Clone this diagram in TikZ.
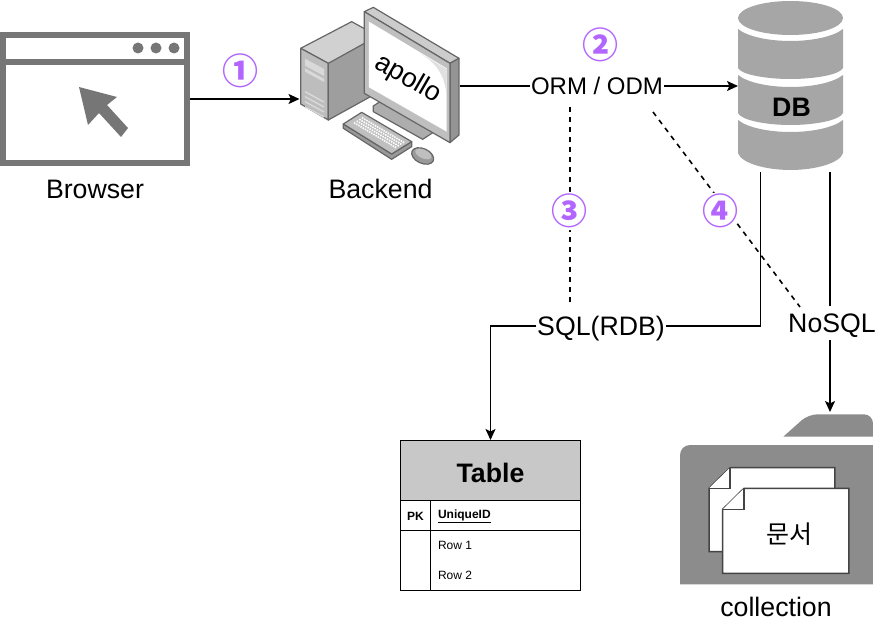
\documentclass[tikz,border=0pt]{standalone}
\usepackage{fontspec}
\setmainfont{Liberation Sans}
\newfontfamily\krfont{Noto Sans CJK KR}
\usetikzlibrary{positioning,arrows.meta}
\definecolor{iconframe}{HTML}{767676}
\definecolor{dbgray}{HTML}{A6A6A6}
\definecolor{foldergray}{HTML}{8C8C8C}
\definecolor{docline}{HTML}{444444}
\definecolor{numpurple}{HTML}{B266FF}
\definecolor{titlegray}{HTML}{C8C8C8}
\tikzset{
  >={Stealth[length=11pt,width=10pt,inset=2.5pt]},
  link/.style={line width=1.6pt},
  dashlink/.style={line width=1.6pt,dash pattern=on 5pt off 5pt},
  iconbox/.style={rectangle,inner sep=0pt,outer sep=0pt},
  biglabel/.style={inner sep=0pt,font=\fontsize{26.7}{30}\selectfont},
  number/.style={circle,fill=white,inner sep=-4pt,text=numpurple,font=\krfont\bfseries\fontsize{36}{40}\selectfont},
  tablecell/.style={rectangle,draw,line width=1pt,outer sep=0pt,inner sep=0pt,minimum height=30pt,font=\fontsize{12}{14}\selectfont},
  rowtext/.style={inner sep=0pt,outer sep=0pt,minimum height=30pt,font=\fontsize{12}{14}\selectfont},
  doc/.style={draw=docline,line width=1.5pt,fill=white,line join=miter}
}

\begin{document}
\begin{tikzpicture}[x=1pt,y=-1pt]
  \useasboundingbox (0,0) rectangle (877,623);

  % browser
  \node[iconbox,draw=iconframe,line width=6pt,outer sep=3pt,minimum width=184pt,minimum height=128pt] (browser) at (95,99) {};
  \draw[iconframe,line width=6pt] (3,62) -- (187,62);
  \foreach \dotx in {138,156,174}
    \fill[iconframe] (\dotx,48) circle (5.5pt);
  \fill[iconframe] (79,87) -- (117,97) -- (107,105) -- (128,128) -- (121,137) -- (99,113) -- (88,125) -- cycle;
  \node[biglabel,below=14pt of browser] (browserlabel) {Browser};

  % backend computer
  \node[iconbox,minimum width=160pt,minimum height=136pt] (backend) at (379.5,75) {};
  \begin{scope}[shift={(280,0)},x=0.3333pt,y=-0.3333pt,draw=black!60,line width=1.2pt,line join=round]
    \filldraw[fill=black!18] (62,145) -- (215,65) -- (275,98) -- (275,200) -- (145,190) -- cycle;
    \filldraw[fill=black!26] (62,145) -- (145,190) -- (145,360) -- (62,312) -- cycle;
    \filldraw[fill=black!38] (145,190) -- (275,118) -- (275,288) -- (145,360) -- cycle;
    \fill[white!85!black] (75,176) -- (132,207) -- (132,228) -- (75,197) -- cycle;
    \fill[white!85!black] (75,205) -- (132,236) -- (132,246) -- (75,215) -- cycle;
    \foreach \sloty in {275,290,305,320}
      \draw[white!85!black,line width=1.4pt] (75,\sloty) -- (132,\sloty+31);
    \filldraw[fill=black!32] (280,318) -- (300,305) -- (460,397) -- (428,418) -- (280,335) -- cycle;
    \filldraw[fill=black!20] (253,35) -- (280,22) -- (537,175) -- (510,190) -- cycle;
    \filldraw[fill=black!42] (510,190) -- (537,175) -- (537,405) -- (510,428) -- cycle;
    \filldraw[fill=black!25] (253,35) -- (510,190) -- (510,428) -- (253,280) -- cycle;
    \fill[white] (267,65) -- (500,205) -- (500,395) -- (267,262) -- cycle;
    \fill[black!12] (420,160) -- (500,207) -- (500,290) .. controls (495,225) and (470,190) .. (420,160);
    \filldraw[fill=black!40] (190,372) -- (190,385) -- (335,478) -- (395,440) -- (395,425) -- (335,462) -- cycle;
    \filldraw[fill=black!25] (190,372) -- (245,337) -- (395,425) -- (335,462) -- cycle;
    \foreach \keyrow in {0,1,2,3}
      \draw[white,line width=1.6pt,dash pattern=on 1.5pt off 1pt] (222+\keyrow*8,368-\keyrow*5) -- (350+\keyrow*8,444-\keyrow*5);
    \filldraw[fill=black!40,rotate around={-25:(428,468)}] (428,468) ellipse (35 and 22);
    \fill[black!25,rotate around={-25:(430,462)}] (430,462) ellipse (26 and 13);
  \end{scope}
  \node[inner sep=0pt,rotate=-30,font=\fontsize{27}{30}\selectfont] (apollo) at (408,79) {apollo};
  \node[biglabel] (backendlabel) at (380.5,189) {Backend};

  % database
  \node[iconbox,minimum width=105pt,minimum height=170pt] (db) at (790.5,86) {};
  \fill[dbgray] (790.5,18) ellipse (52.5pt and 17pt);
  \foreach \ytop/\ybot/\dip in {29/68/11,75/113/12,120/153/17}
    \fill[dbgray] (738,\ytop) .. controls (748,\ytop+8) and (770,\ytop+12) .. (790.5,\ytop+12)
      .. controls (811,\ytop+12) and (833,\ytop+8) .. (843,\ytop)
      -- (843,\ybot) .. controls (840,\ybot+\dip*0.6) and (815,\ybot+\dip) .. (790.5,\ybot+\dip)
      .. controls (766,\ybot+\dip) and (741,\ybot+\dip*0.6) .. (738,\ybot) -- cycle;
  \node[inner sep=0pt,font=\bfseries\fontsize{26.7}{30}\selectfont] (dblabel) at (791.5,107) {DB};

  % collection folder
  \node[iconbox,minimum width=193pt,minimum height=172pt] (collection) at (776.5,498) {};
  \begin{scope}[shift={(670,400)},x=0.3333pt,y=-0.3333pt]
    \fill[foldergray] (340,110) [rounded corners=9pt] -- (415,43) -- (609,43) [sharp corners] -- (609,110) -- cycle;
    \fill[foldergray] (30,553) [rounded corners=10pt] -- (30,135) [sharp corners] -- (609,135) -- (609,553) -- cycle;
    \path[doc] (117,455) -- (117,265) -- (180,203) -- (495,203) -- (495,455) -- cycle;
    \draw[doc] (180,203) -- (180,265) -- (117,265);
    \path[doc] (158,520) -- (158,328) -- (222,265) -- (537,265) -- (537,520) -- cycle;
    \draw[doc] (222,265) -- (222,328) -- (158,328);
  \end{scope}
  \node[inner sep=0pt,font=\krfont\fontsize{25}{28}\selectfont] (doclabel) at (789,534) {문서};
  \node[biglabel] (collectionlabel) at (776,607) {collection};

  % table
  \node[tablecell,fill=titlegray,minimum width=180pt,minimum height=60pt,text height=24pt,text depth=0pt,font=\bfseries\fontsize{26.7}{30}\selectfont] (tabletitle) at (490.5,470) {Table};
  \node[tablecell,minimum width=30pt,anchor=north west,text height=10pt,text depth=0pt,font=\bfseries\fontsize{12}{14}\selectfont] (pkcell) at (tabletitle.south west) {PK};
  \node[tablecell,minimum width=150pt,anchor=north west] (idcell) at (pkcell.north east) {};
  \node[rowtext,anchor=west,font=\bfseries\fontsize{12}{14}\selectfont] (idtext) at ([xshift=7.5pt,yshift=-1pt]idcell.west) {\underline{UniqueID}};
  \node[tablecell,minimum width=30pt,minimum height=60pt,anchor=north west] (pkrows) at (pkcell.south west) {};
  \node[tablecell,minimum width=150pt,minimum height=60pt,anchor=north west] (rowbox) at (idcell.south west) {};
  \node[rowtext,anchor=north west] (rowone) at ([xshift=7.5pt,yshift=-0.5pt]rowbox.north west) {Row 1};
  \node[rowtext,anchor=north west] (rowtwo) at (rowone.south west) {Row 2};

  % labels on the links
  \node[inner sep=1pt,minimum height=42pt,text height=17pt,text depth=0pt,font=\fontsize{24}{28}\selectfont] (orm) at (597,86) {ORM / ODM};
  \node[inner sep=1pt,minimum height=38pt,text height=18.6pt,text depth=0pt,font=\fontsize{26.7}{30}\selectfont] (sql) at (601,326) {SQL(RDB)};
  \node[inner sep=0pt,minimum height=34pt,text height=18pt,text depth=0pt,font=\fontsize{26.7}{30}\selectfont] (nosql) at (832,323) {NoSQL};

  \coordinate (dbsql) at (760.5,172);
  \coordinate (dbnosql) at (830,172);
  \coordinate (ormstart) at (653,112);
  \coordinate (nosqlend) at (800,307);
  \coordinate (sqldash) at (570,107);

  \draw[link,->] (browser.east) -- (browser.east -| backend.west);
  \draw[link] (orm -| backend.east) -- (orm.west);
  \draw[link,->] (orm.east) -- (orm -| db.west);
  \draw[link] (dbsql) |- (sql.east);
  \draw[link,->] (sql.west) -| (tabletitle.north);
  \draw[link] (dbnosql) -- (dbnosql |- nosql.north);
  \draw[link,->] (dbnosql |- nosql.south) -- (dbnosql |- collection.north);
  \draw[dashlink] (sqldash) -- (sqldash |- sql.north);
  \draw[dashlink] (ormstart) -- (nosqlend);

  \node[number] (stepone) at (240,71) {①};
  \node[number] (steptwo) at (600,45) {②};
  \node[number] (stepthree) at (569,211) {③};
  \node[number] (stepfour) at (720,211) {④};
\end{tikzpicture}
\end{document}
